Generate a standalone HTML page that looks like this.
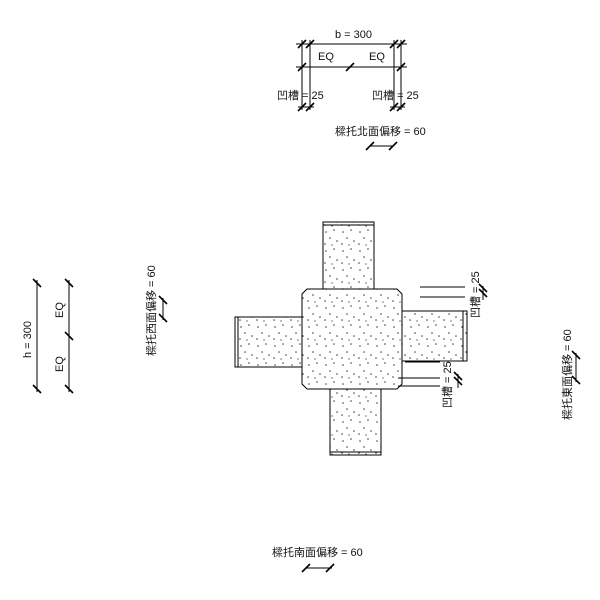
<!DOCTYPE html>
<html><head><meta charset="utf-8"><style>
html,body{margin:0;padding:0;background:#fff}
svg{display:block}
text{font-family:"Liberation Sans","Noto Sans CJK TC",sans-serif;font-size:11px;fill:#111}
</style></head><body>
<svg width="600" height="600" viewBox="0 0 600 600" xmlns="http://www.w3.org/2000/svg">
<defs>
<pattern id="d" width="17" height="19" patternUnits="userSpaceOnUse">
<rect width="17" height="19" fill="#fff"/>
<circle cx="3" cy="4" r="0.75" fill="#333"/><circle cx="11" cy="2" r="0.75" fill="#333"/>
<circle cx="7" cy="10" r="0.75" fill="#333"/><circle cx="14" cy="13" r="0.75" fill="#333"/>
<circle cx="2" cy="16" r="0.75" fill="#333"/><circle cx="9" cy="17" r="0.65" fill="#333"/>
</pattern>
</defs>
<g stroke="#000" stroke-width="1" fill="url(#d)">
<rect x="323" y="222" width="51" height="68"/>
<rect x="235" y="317" width="67" height="50"/>
<rect x="402" y="311" width="65" height="50"/>
<rect x="330" y="389" width="51" height="66"/>
<polygon points="307,289 397,289 402,294 402,384 397,389 307,389 302,384 302,294"/>
</g>
<g stroke="#000" stroke-width="1" fill="none">
<line x1="323" y1="225" x2="374" y2="225"/>
<line x1="238" y1="317" x2="238" y2="367"/>
<line x1="463" y1="311" x2="463" y2="361"/>
<line x1="330" y1="452" x2="381" y2="452"/>
<line x1="296" y1="44" x2="407" y2="44"/>
<line x1="296" y1="67" x2="407" y2="67"/>
<line x1="302" y1="40" x2="302" y2="110"/>
<line x1="310" y1="40" x2="310" y2="110"/>
<line x1="394" y1="40" x2="394" y2="110"/>
<line x1="401" y1="40" x2="401" y2="110"/>
<line x1="298" y1="107" x2="314" y2="107"/>
<line x1="390" y1="107" x2="405" y2="107"/>
<line x1="370" y1="146" x2="393" y2="146"/>
<line x1="420" y1="287" x2="465" y2="287"/>
<line x1="420" y1="297" x2="465" y2="297"/>
<line x1="405" y1="362" x2="440" y2="362"/>
<line x1="398" y1="378" x2="440" y2="378"/>
<line x1="398" y1="386" x2="440" y2="386"/>
<line x1="483" y1="286" x2="483" y2="300"/>
<line x1="458" y1="374" x2="458" y2="388"/>
<line x1="37" y1="280" x2="37" y2="392"/>
<line x1="69" y1="280" x2="69" y2="392"/>
<line x1="163" y1="298" x2="163" y2="320"/>
<line x1="576" y1="353" x2="576" y2="382"/>
<line x1="306" y1="568" x2="332" y2="568"/>
</g>
<g stroke="#000" stroke-width="1.6">
<line x1="298" y1="48" x2="306" y2="40"/><line x1="306" y1="48" x2="314" y2="40"/>
<line x1="390" y1="48" x2="398" y2="40"/><line x1="397" y1="48" x2="405" y2="40"/>
<line x1="298" y1="71" x2="306" y2="63"/><line x1="346" y1="71" x2="354" y2="63"/><line x1="397" y1="71" x2="405" y2="63"/>
<line x1="298" y1="111" x2="306" y2="103"/><line x1="306" y1="111" x2="314" y2="103"/>
<line x1="390" y1="111" x2="398" y2="103"/><line x1="397" y1="111" x2="405" y2="103"/>
<line x1="366" y1="150" x2="374" y2="142"/><line x1="389" y1="150" x2="397" y2="142"/>
<line x1="33" y1="279" x2="41" y2="287"/><line x1="33" y1="385" x2="41" y2="393"/>
<line x1="65" y1="279" x2="73" y2="287"/><line x1="65" y1="332" x2="73" y2="340"/><line x1="65" y1="385" x2="73" y2="393"/>
<line x1="159" y1="296" x2="167" y2="304"/><line x1="159" y1="314" x2="167" y2="322"/>
<line x1="572" y1="351" x2="580" y2="359"/><line x1="572" y1="376" x2="580" y2="384"/>
<line x1="302" y1="572" x2="310" y2="564"/><line x1="326" y1="572" x2="334" y2="564"/>
<line x1="479" y1="289" x2="487" y2="297"/><line x1="479" y1="284" x2="487" y2="292"/>
<line x1="454" y1="377" x2="462" y2="385"/><line x1="454" y1="372" x2="462" y2="380"/>
</g>
<text x="335" y="38">b = 300</text>
<text x="318" y="60">EQ</text>
<text x="369" y="60">EQ</text>
<text x="277" y="99">凹槽 = 25</text>
<text x="372" y="99">凹槽 = 25</text>
<text x="335" y="135">樑托北面偏移 = 60</text>
<text x="272" y="556">樑托南面偏移 = 60</text>
<text transform="translate(31,358) rotate(-90)">h = 300</text>
<text transform="translate(63,318) rotate(-90)">EQ</text>
<text transform="translate(63,372) rotate(-90)">EQ</text>
<text transform="translate(155,356) rotate(-90)">樑托西面偏移 = 60</text>
<text transform="translate(571,420) rotate(-90)">樑托東面偏移 = 60</text>
<text transform="translate(479,318) rotate(-90)">凹槽 = 25</text>
<text transform="translate(451,408) rotate(-90)">凹槽 = 25</text>
</svg>
</body></html>
